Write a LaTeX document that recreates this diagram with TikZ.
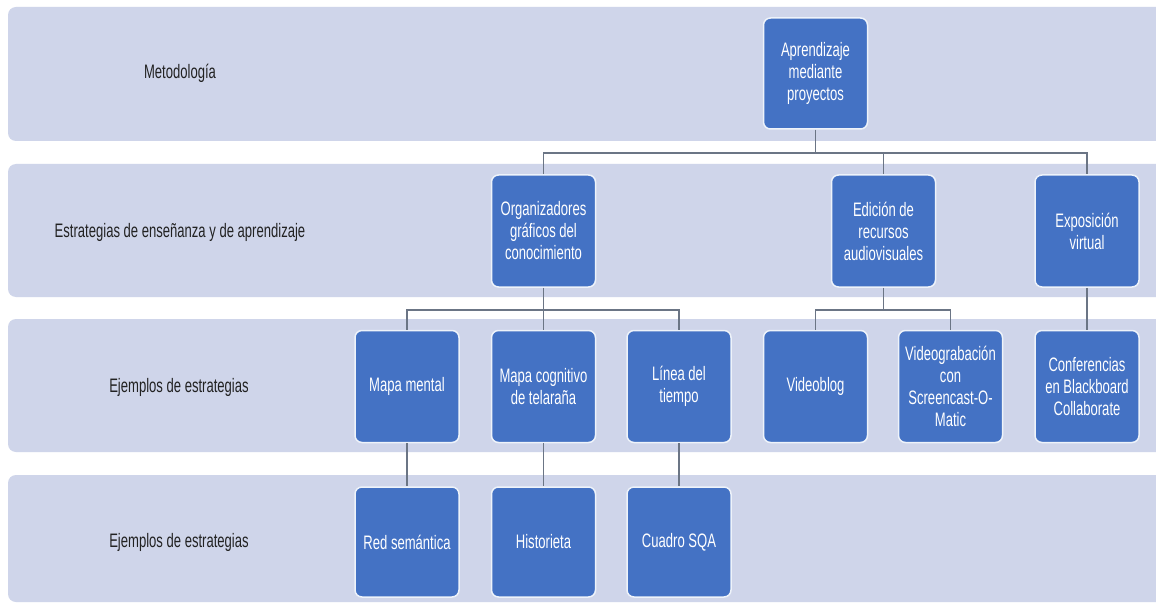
\documentclass[tikz,border=0pt]{standalone}
\usepackage{fontspec}
\setmainfont{Liberation Sans}[FakeStretch=0.67]
\definecolor{bandc}{HTML}{CFD5EA}
\definecolor{boxc}{HTML}{4472C4}
\definecolor{boxedge}{HTML}{EEF3FA}
\definecolor{linec}{HTML}{6B7585}
\definecolor{labc}{HTML}{222222}
\begin{document}
\begin{tikzpicture}[x=1pt,y=-1pt,
  band/.style={fill=bandc, rounded corners=8pt},
  box/.style={fill=boxc, draw=boxedge, line width=1.5pt, rounded corners=7pt,
    minimum width=104pt, minimum height=112pt, text=white, align=center,
    font=\fontsize{19.5}{22}\selectfont, inner sep=0pt},
  lab/.style={text=labc, font=\fontsize{19.5}{22}\selectfont, inner sep=0pt},
  conn/.style={draw=linec, line width=1.6pt}]
\useasboundingbox (0,0) rectangle (1156,604);
\clip (0,0) rectangle (1156,604);
\fill[white] (0,0) rectangle (1156,604);
% bands
\path[band] (8,7) rectangle (1180,141);
\path[band] (8,164) rectangle (1180,297);
\path[band] (8,319) rectangle (1180,452);
\path[band] (8,475) rectangle (1180,602);
% labels
\node[lab] (l1) at (180,73) {Metodología};
\node[lab] (l2) at (180,232) {Estrategias de enseñanza y de aprendizaje};
\node[lab] (l3) at (179,387) {Ejemplos de estrategias};
\node[lab] (l4) at (179,542) {Ejemplos de estrategias};
% boxes
\node[box, minimum height=111pt] (A) at (815.5,73.5) {Aprendizaje\\mediante\\proyectos};
\node[box] (Org) at (543.5,231) {Organizadores\\gráficos del\\conocimiento};
\node[box] (Ed) at (883.5,231) {Edición de\\recursos\\audiovisuales};
\node[box] (Exp) at (1087,231) {Exposición\\virtual};
\node[box] (MM) at (407,386.5) {Mapa mental};
\node[box] (MC) at (543.5,386.5) {Mapa cognitivo\\de telaraña};
\node[box] (LT) at (679,386.5) {Línea del\\tiempo};
\node[box] (VB) at (815.5,386.5) {Videoblog};
\node[box] (VG) at (950.5,386.5) {Videograbación\\con\\Screencast-O-\\Matic};
\node[box] (CF) at (1087,386.5) {Conferencias\\en Blackboard\\Collaborate};
\node[box, minimum height=110pt] (RS) at (407,542) {Red semántica};
\node[box, minimum height=110pt] (HI) at (543.5,542) {Historieta};
\node[box, minimum height=110pt] (CS) at (679,542) {Cuadro SQA};
% connectors
\coordinate (h1) at (0,153);
\coordinate (h2) at (0,310);
\draw[conn] (A.south) -- (A.south |- h1);
\draw[conn] (Org.north) -- (Org.north |- h1) -- (Exp.north |- h1) -- (Exp.north);
\draw[conn] (Ed.north) -- (Ed.north |- h1);
\draw[conn] (Org.south) -- (MC.north);
\draw[conn] (MM.north) -- (MM.north |- h2) -- (LT.north |- h2) -- (LT.north);
\draw[conn] (Ed.south) -- (Ed.south |- h2);
\draw[conn] (VB.north) -- (VB.north |- h2) -- (VG.north |- h2) -- (VG.north);
\draw[conn] (Exp.south) -- (CF.north);
\draw[conn] (MM.south) -- (RS.north);
\draw[conn] (MC.south) -- (HI.north);
\draw[conn] (LT.south) -- (CS.north);
\end{tikzpicture}
\end{document}
